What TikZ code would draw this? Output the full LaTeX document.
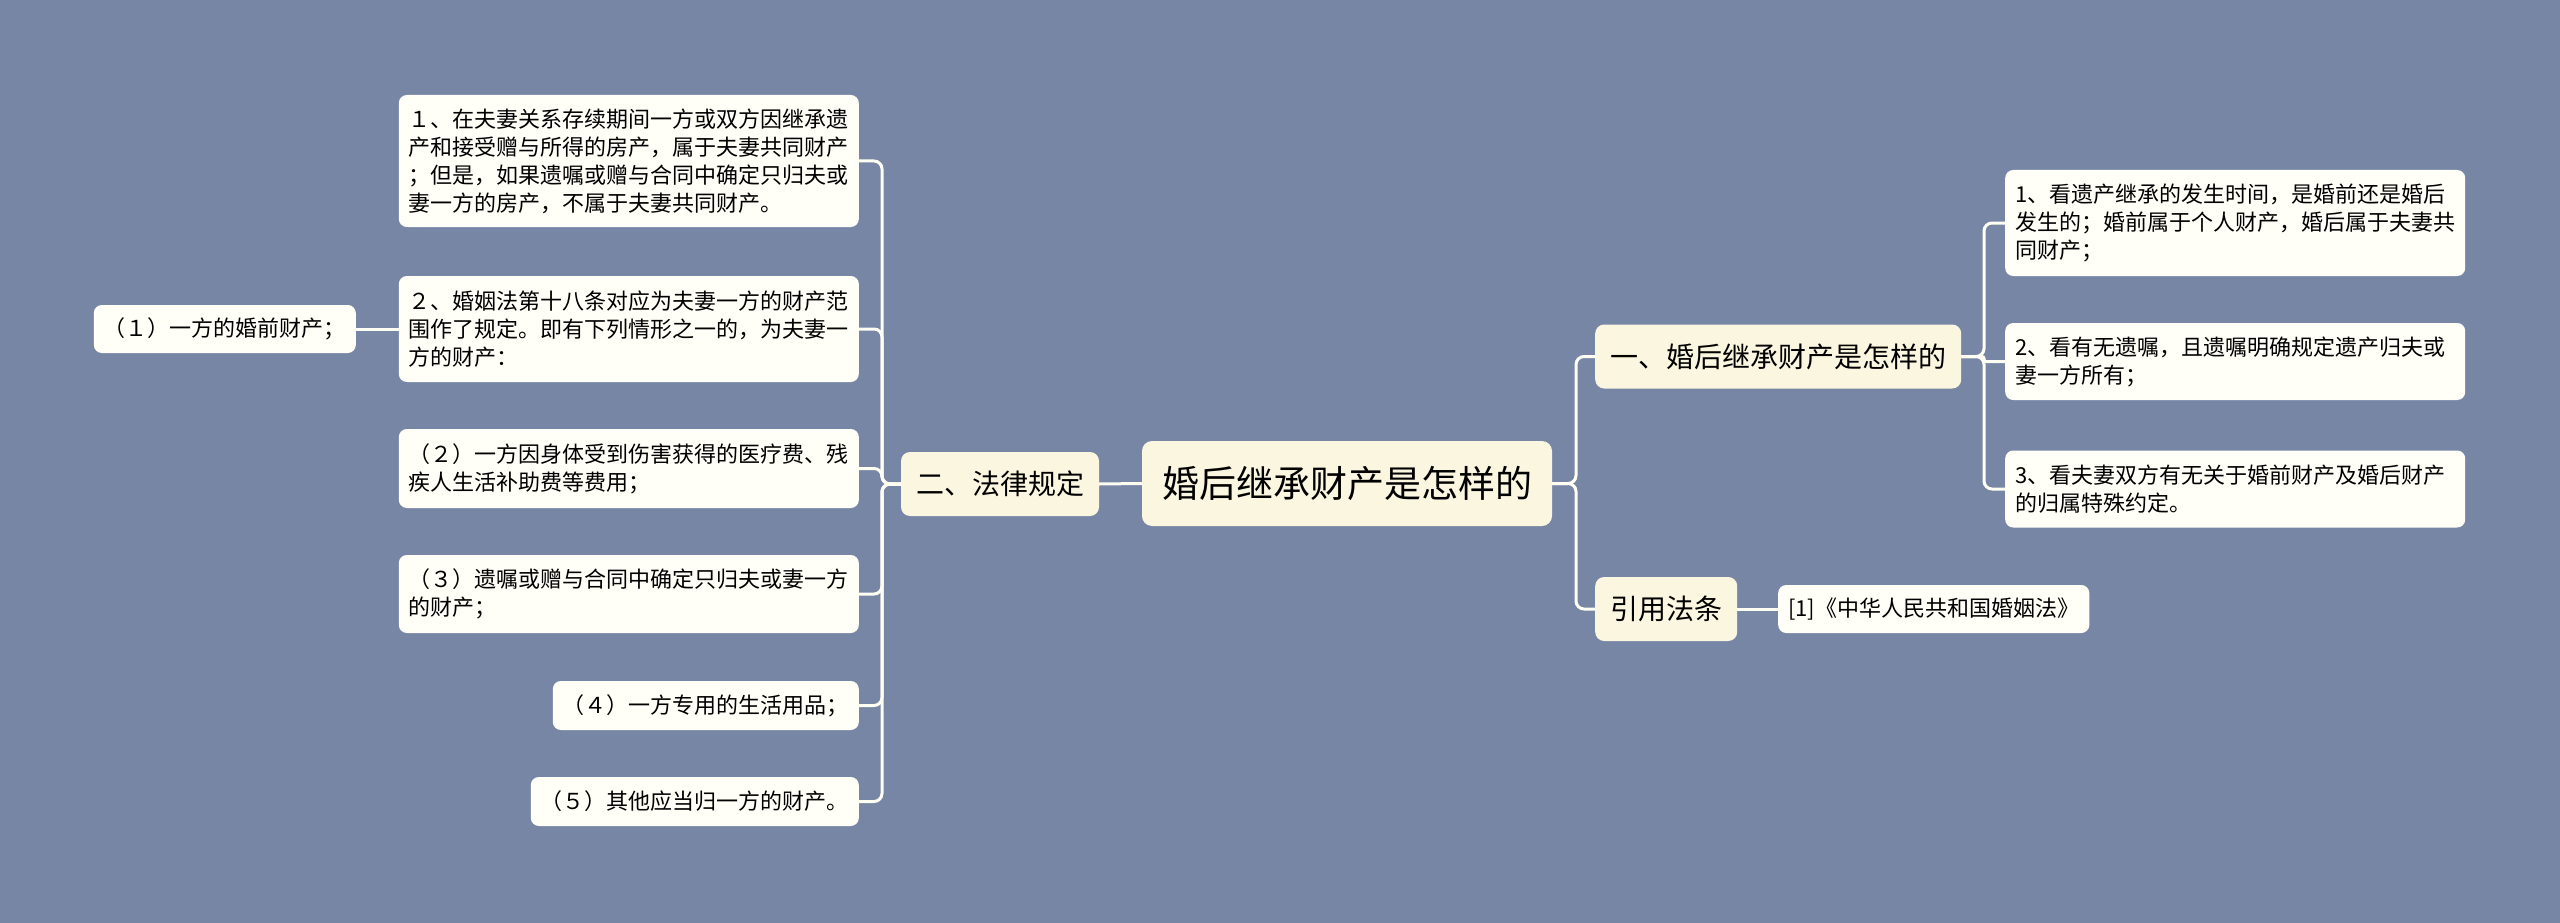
\documentclass[tikz,border=0pt]{standalone}
\usepackage{fontspec}
\setmainfont{Noto Sans CJK SC}
\definecolor{bg}{HTML}{7886A6}
\definecolor{mainfill}{HTML}{FBF6DF}
\definecolor{leaffill}{HTML}{FFFEF7}
\definecolor{linec}{HTML}{FFFEF2}
\begin{document}
\begin{tikzpicture}[x=1pt,y=-1pt,
  rootbox/.style={fill=mainfill, rounded corners=10pt, inner xsep=20pt, inner ysep=0pt, minimum height=85pt, font=\fontsize{37}{44}\selectfont},
  topicbox/.style={fill=mainfill, rounded corners=9pt, inner xsep=15pt, inner ysep=0pt, minimum height=64pt, font=\fontsize{28}{34}\selectfont},
  leafbox/.style={fill=leaffill, rounded corners=8pt, inner xsep=10pt, inner ysep=0pt, align=left, font=\fontsize{22}{28}\selectfont},
  wide/.style={text width=440pt},
  conn/.style={draw=linec, line width=3pt, rounded corners=8pt}]
\fill[bg] (0,0) rectangle (2560,923);
\useasboundingbox (0,0) rectangle (2560,923);

% root and topics
\node[rootbox] (root) at (1347,483.5) {婚后继承财产是怎样的};
\node[topicbox] (law) at (1000,484) {二、法律规定};
\node[topicbox, anchor=west] (how) at (1595,356.5) {一、婚后继承财产是怎样的};
\node[topicbox, anchor=west] (cite) at (1595,609) {引用法条};

% left leaves
\node[leafbox, wide, anchor=east, minimum height=132pt] (l1) at (859,161) {１、在夫妻关系存续期间一方或双方因继承遗\\产和接受赠与所得的房产，属于夫妻共同财产\\；但是，如果遗嘱或赠与合同中确定只归夫或\\妻一方的房产，不属于夫妻共同财产。};
\node[leafbox, wide, anchor=east, minimum height=106pt] (l2) at (859,329) {２、婚姻法第十八条对应为夫妻一方的财产范\\围作了规定。即有下列情形之一的，为夫妻一\\方的财产：};
\node[leafbox, anchor=east, minimum height=48pt] (l2a) at (356,329) {（１）一方的婚前财产；};
\node[leafbox, wide, anchor=east, minimum height=79pt] (l3) at (859,468.5) {（２）一方因身体受到伤害获得的医疗费、残\\疾人生活补助费等费用；};
\node[leafbox, wide, anchor=east, minimum height=78pt] (l4) at (859,594) {（３）遗嘱或赠与合同中确定只归夫或妻一方\\的财产；};
\node[leafbox, anchor=east, minimum height=49pt] (l5) at (859,705.5) {（４）一方专用的生活用品；};
\node[leafbox, anchor=east, minimum height=49pt] (l6) at (859,801.5) {（５）其他应当归一方的财产。};

% right leaves
\node[leafbox, wide, anchor=west, minimum height=106pt] (r1) at (2005,223) {1、看遗产继承的发生时间，是婚前还是婚后\\发生的；婚前属于个人财产，婚后属于夫妻共\\同财产；};
\node[leafbox, wide, anchor=west, minimum height=77pt] (r2) at (2005,361.5) {2、看有无遗嘱，且遗嘱明确规定遗产归夫或\\妻一方所有；};
\node[leafbox, wide, anchor=west, minimum height=77pt] (r3) at (2005,489) {3、看夫妻双方有无关于婚前财产及婚后财产\\的归属特殊约定。};
\node[leafbox, anchor=west, minimum height=48pt] (c1) at (1778,609) {[1]《中华人民共和国婚姻法》};

% trunk coordinates
\coordinate (lt) at (882,484);
\coordinate (rt) at (1576,483.5);
\coordinate (ht) at (1984,356.5);

% connectors
\draw[conn] (root.west) -- (law.east);
\foreach \n in {l1,l2,l3,l4,l5,l6}{
  \draw[conn] (law.west) -- (lt) |- (\n.east);
}
\draw[conn] (l2.west) -- (l2a.east);
\draw[conn] (root.east) -- (rt) |- (how.west);
\draw[conn] (root.east) -- (rt) |- (cite.west);
\draw[conn] (how.east) -- (ht) |- (r1.west);
\draw[conn, rounded corners=2pt] (how.east) -- (ht) |- (r2.west);
\draw[conn] (how.east) -- (ht) |- (r3.west);
\draw[conn] (cite.east) -- (c1.west);
\end{tikzpicture}
\end{document}
